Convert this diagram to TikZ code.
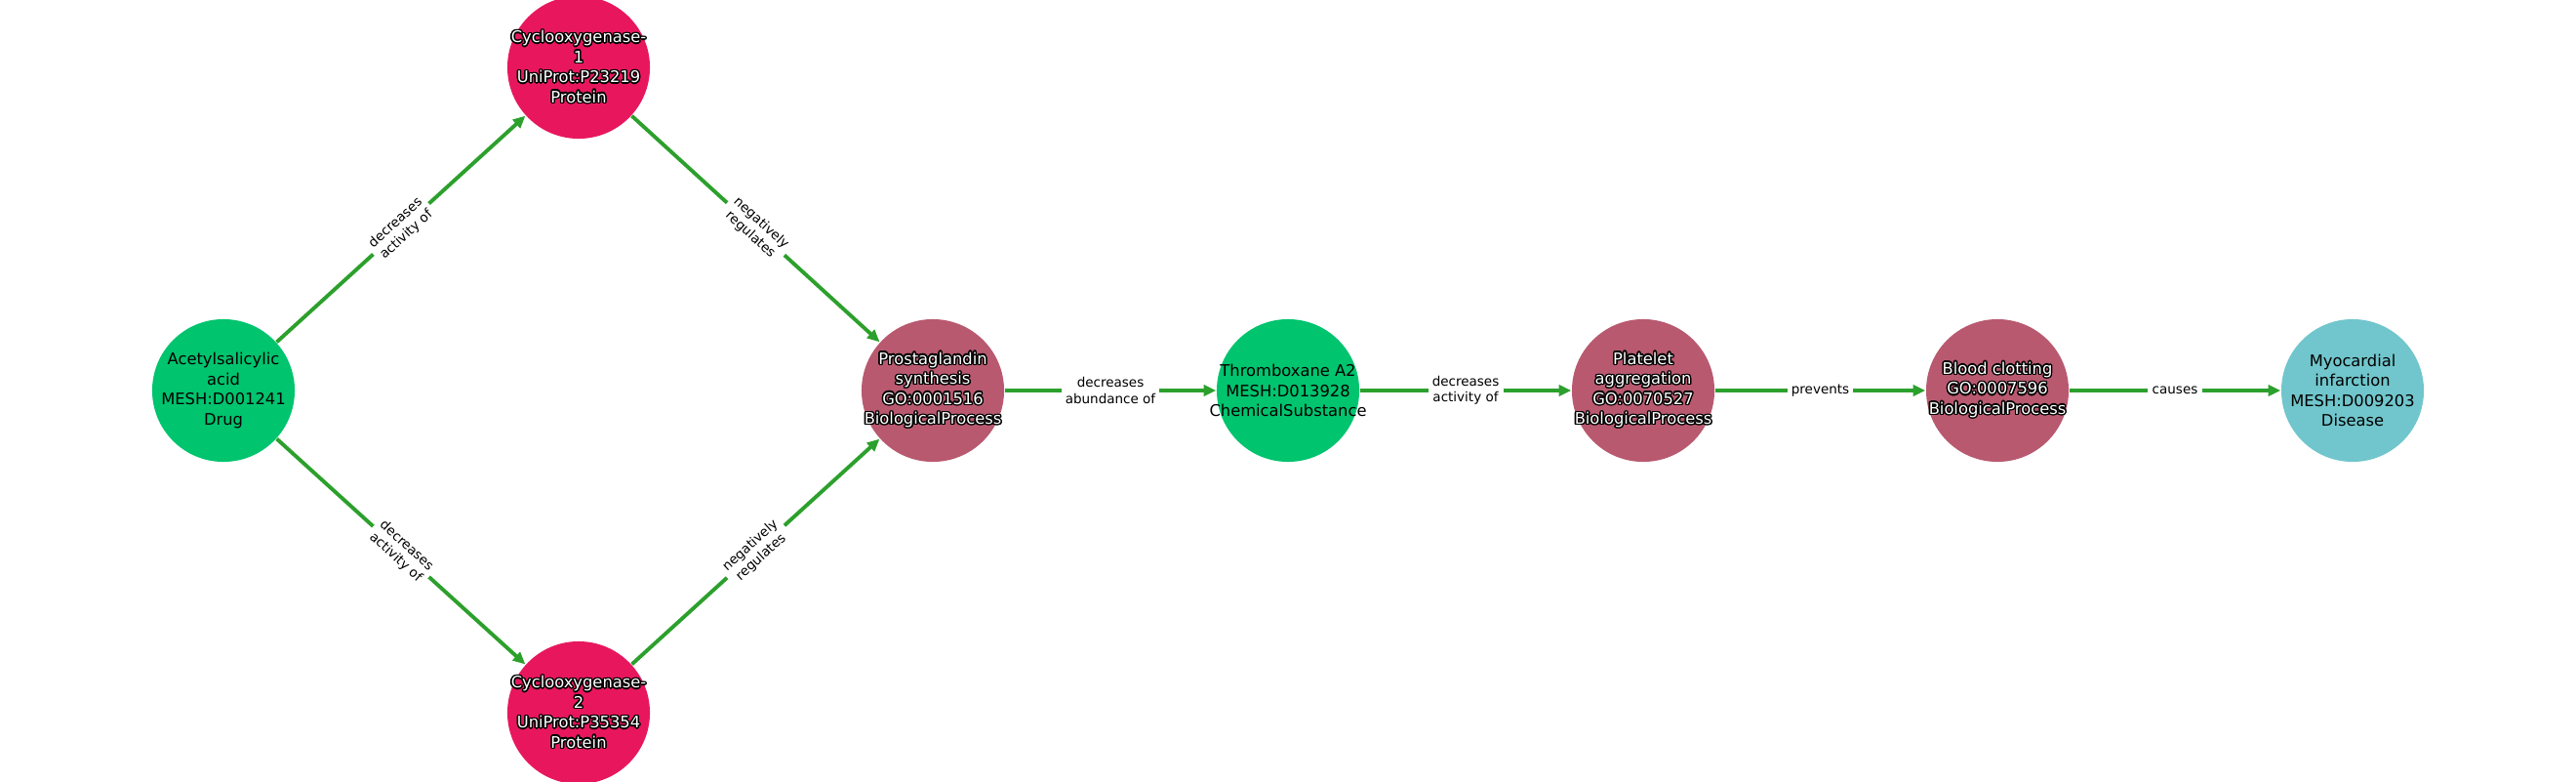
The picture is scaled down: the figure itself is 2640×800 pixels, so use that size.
\documentclass[tikz,border=0pt]{standalone}
\usepackage{fontspec}
\setmainfont{DejaVu Sans}
\usepackage{contour}
\contourlength{0.4pt}
\usetikzlibrary{arrows.meta}
\definecolor{cdrug}{HTML}{00C46E}
\definecolor{cprot}{HTML}{E8175D}
\definecolor{cbio}{HTML}{B8596F}
\definecolor{cdis}{HTML}{70C6CC}
\definecolor{cedge}{HTML}{2CA02C}
\newcommand\oc[1]{\contour{black}{#1}}
\begin{document}
\begin{tikzpicture}[x=0.01cm,y=-0.01cm,
  nd/.style={circle, minimum size=1.46cm, inner sep=0pt, fill=#1},
  txt/.style={align=center, inner sep=0pt, font=\fontsize{4.64}{5.83}\selectfont},
  light/.style={txt, text=black},
  dark/.style={txt, text=white},
  edge/.style={draw=cedge, line width=1.1pt, -{Triangle[length=3.6pt,width=3.2pt]}},
  lbl/.style={fill=white, inner sep=1.2pt, align=center, text=black,
    font=\fontsize{3.84}{4.64}\selectfont}]
\useasboundingbox (0,0) rectangle (2640,800);
\node[nd=cdrug] (A) at (229,400) {};
\node[nd=cprot] (C1) at (593,69) {};
\node[nd=cprot] (C2) at (593,730) {};
\node[nd=cbio] (P) at (956,400) {};
\node[nd=cdrug] (T) at (1320,400) {};
\node[nd=cbio] (PL) at (1684,400) {};
\node[nd=cbio] (B) at (2047,400) {};
\node[nd=cdis] (M) at (2411,400) {};
\node[light] (At) at (A) {Acetylsalicylic\\acid\\MESH:D001241\\Drug};
\node[dark] (C1t) at (C1) {\oc{Cyclooxygenase-}\\\oc{1}\\\oc{UniProt:P23219}\\\oc{Protein}};
\node[dark] (C2t) at (C2) {\oc{Cyclooxygenase-}\\\oc{2}\\\oc{UniProt:P35354}\\\oc{Protein}};
\node[dark] (Pt) at (P) {\oc{Prostaglandin}\\\oc{synthesis}\\\oc{GO:0001516}\\\oc{BiologicalProcess}};
\node[light] (Tt) at (T) {Thromboxane A2\\MESH:D013928\\ChemicalSubstance};
\node[dark] (PLt) at (PL) {\oc{Platelet}\\\oc{aggregation}\\\oc{GO:0070527}\\\oc{BiologicalProcess}};
\node[dark] (Bt) at (B) {\oc{Blood clotting}\\\oc{GO:0007596}\\\oc{BiologicalProcess}};
\node[light] (Mt) at (M) {Myocardial\\infarction\\MESH:D009203\\Disease};
\draw[edge] (A) -- node[lbl, sloped] {decreases\\activity of} (C1);
\draw[edge] (A) -- node[lbl, sloped] {decreases\\activity of} (C2);
\draw[edge] (C1) -- node[lbl, sloped] {negatively\\regulates} (P);
\draw[edge] (C2) -- node[lbl, sloped] {negatively\\regulates} (P);
\draw[edge] (P) -- node[lbl] {decreases\\abundance of} (T);
\draw[edge] (T) -- node[lbl] {decreases\\activity of} (PL);
\draw[edge] (PL) -- node[lbl] {prevents} (B);
\draw[edge] (B) -- node[lbl] {causes} (M);
\end{tikzpicture}
\end{document}
